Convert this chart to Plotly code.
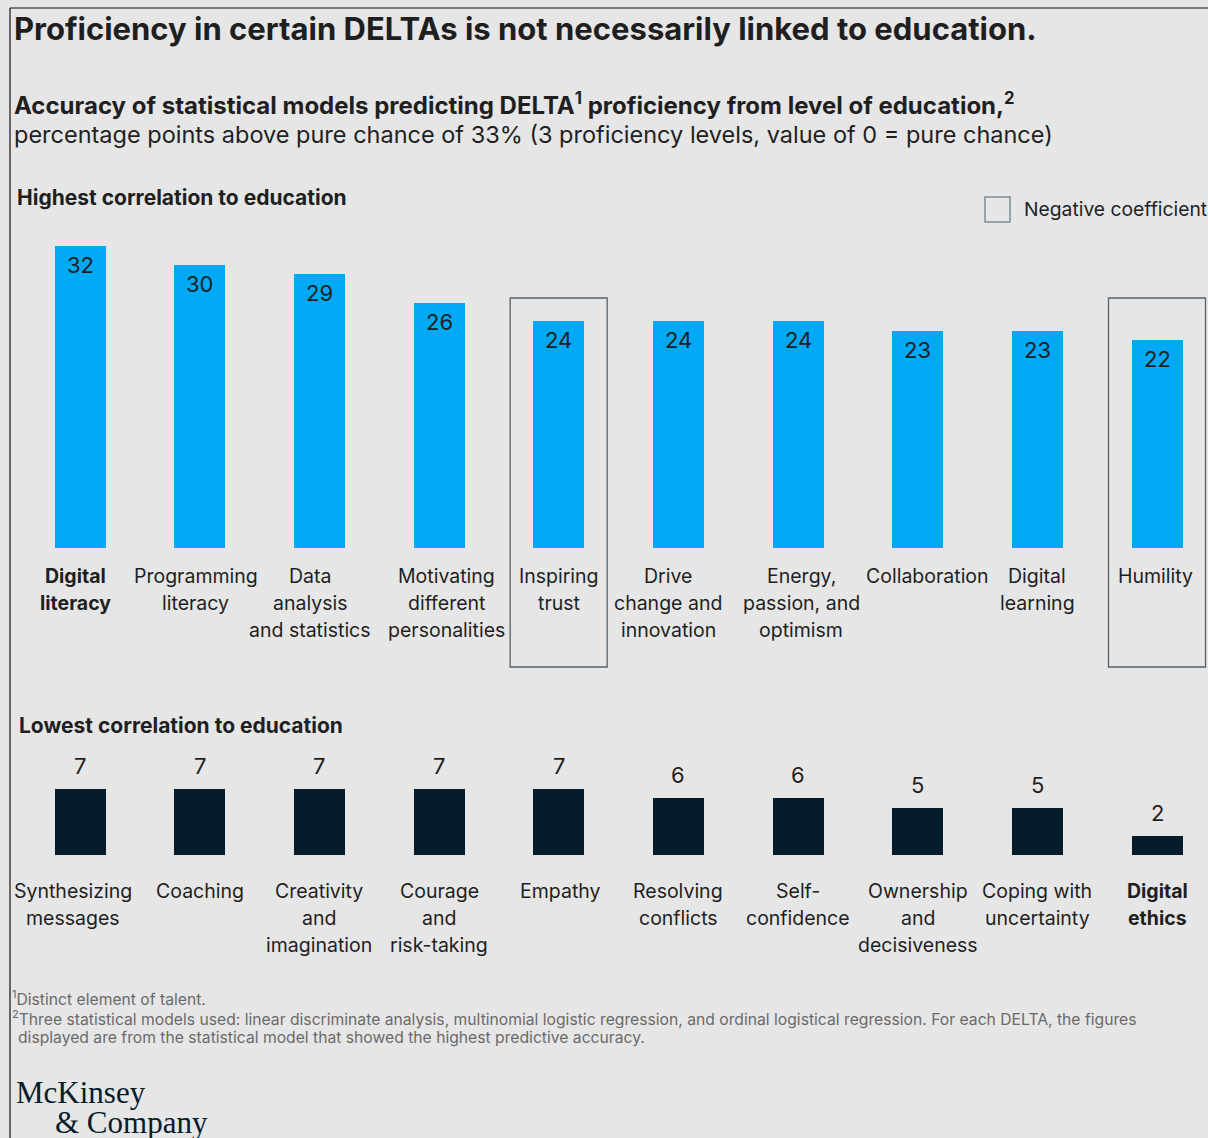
import plotly.graph_objects as go

# ---- data ----
top_categories = ["Digital literacy", "Programming literacy", "Data analysis and statistics",
                  "Motivating different personalities", "Inspiring trust", "Drive change and innovation",
                  "Energy, passion, and optimism", "Collaboration", "Digital learning", "Humility"]
top_labels = ["<b>Digital<br>literacy</b>", "Programming<br>literacy", "Data<br>analysis<br>and statistics",
              "Motivating<br>different<br>personalities", "Inspiring<br>trust", "Drive<br>change and<br>innovation",
              "Energy,<br>passion, and<br>optimism", "Collaboration", "Digital<br>learning", "Humility"]
top_values = [32, 30, 29, 26, 24, 24, 24, 23, 23, 22]
top_negative = [False, False, False, False, True, False, False, False, False, True]

bottom_categories = ["Synthesizing messages", "Coaching", "Creativity and imagination",
                     "Courage and risk-taking", "Empathy", "Resolving conflicts", "Self-confidence",
                     "Ownership and decisiveness", "Coping with uncertainty", "Digital ethics"]
bottom_labels = ["Synthesizing<br>messages", "Coaching", "Creativity<br>and<br>imagination",
                 "Courage<br>and<br>risk-taking", "Empathy", "Resolving<br>conflicts", "Self-<br>confidence",
                 "Ownership<br>and<br>decisiveness", "Coping with<br>uncertainty", "<b>Digital<br>ethics</b>"]
bottom_values = [7, 7, 7, 7, 7, 6, 6, 5, 5, 2]

# ---- layout constants (pixels) ----
W, H = 1208, 1138
FONT = "Inter"
TXT = "#1f1f1f"
BG = "#e6e6e6"
BLUE = "#00a9f4"
NAVY = "#051c2c"
PX_PER_UNIT = 9.44
LINE_H = 27  # category label line height

# horizontal nudges (px) so that neighbouring multi-line labels don't collide
LABEL_NUDGE = {
    "Digital literacy": -5, "Programming literacy": -4, "Data analysis and statistics": -9,
    "Motivating different personalities": 7, "Drive change and innovation": -10,
    "Energy, passion, and optimism": 3, "Collaboration": 10, "Humility": -2,
    "Synthesizing messages": -7, "Empathy": 2,
}


def py(p):
    """pixel row -> paper y"""
    return 1 - p / H


def px(p):
    return p / W


# x scale: category centers at 80 + 119.67*i
x_unit = 1077 / 9
x0 = -80 / x_unit
x_range = [x0, x0 + W / x_unit]

top_base, top_top = 548, 200
bot_base, bot_top = 855, 740

xs = list(range(len(top_values)))

fig = go.Figure()
fig.add_trace(go.Bar(
    x=xs, y=top_values, marker=dict(color=BLUE, line=dict(width=0)), width=51 / x_unit,
    xaxis="x", yaxis="y", hoverinfo="skip", showlegend=False))
fig.add_trace(go.Bar(
    x=xs, y=bottom_values, marker=dict(color=NAVY, line=dict(width=0)), width=51 / x_unit,
    xaxis="x2", yaxis="y2", hoverinfo="skip", showlegend=False))

axis_common = dict(domain=[0, 1], range=x_range, showticklabels=False, showgrid=False,
                   zeroline=False, showline=False, ticks="", fixedrange=True)
fig.update_layout(
    width=W, height=H, margin=dict(l=0, r=0, t=0, b=0),
    paper_bgcolor=BG, plot_bgcolor="rgba(0,0,0,0)",
    bargap=0,
    xaxis=dict(anchor="y", **axis_common),
    yaxis=dict(domain=[py(top_base), py(top_top)], range=[0, (top_base - top_top) / PX_PER_UNIT],
               visible=False, fixedrange=True),
    xaxis2=dict(anchor="y2", **axis_common),
    yaxis2=dict(domain=[py(bot_base), py(bot_top)], range=[0, (bot_base - bot_top) / PX_PER_UNIT],
                visible=False, fixedrange=True),
)

annotations = []

# value labels: inside the top of the blue bars, above the navy bars
for i, v in enumerate(top_values):
    annotations.append(dict(x=i, y=v, xref="x", yref="y", text=str(v), showarrow=False,
                            yanchor="middle", yshift=-19,
                            font=dict(family=FONT, size=22, color=TXT)))
for i, v in enumerate(bottom_values):
    annotations.append(dict(x=i, y=v, xref="x2", yref="y2", text=str(v), showarrow=False,
                            yanchor="middle", yshift=23,
                            font=dict(family=FONT, size=22, color=TXT)))


# category labels under each bar, one annotation per line
def category_labels(cats, labels, xref, yref, first_gap):
    for i, (cat, lab) in enumerate(zip(cats, labels)):
        bold = lab.startswith("<b>")
        lines = lab.replace("<b>", "").replace("</b>", "").split("<br>")
        for k, line in enumerate(lines):
            annotations.append(dict(
                x=i, y=0, xref=xref, yref=yref, showarrow=False,
                text=f"<b>{line}</b>" if bold else line,
                xanchor="center", yanchor="middle",
                xshift=LABEL_NUDGE.get(cat, 0), yshift=-(first_gap + LINE_H * k),
                font=dict(family=FONT, size=19.5, color=TXT)))


category_labels(top_categories, top_labels, "x", "y", 28)
category_labels(bottom_categories, bottom_labels, "x2", "y2", 36)


def text(x, y, s, size, color=TXT, family=FONT, xanchor="left"):
    annotations.append(dict(x=px(x), y=py(y), xref="paper", yref="paper", text=s, showarrow=False,
                            xanchor=xanchor, yanchor="middle", align="left",
                            font=dict(family=family, size=size, color=color)))


text(12, 28, "<b>Proficiency in certain DELTAs is not necessarily linked to education.</b>", 31)
text(12, 104, "<b>Accuracy of statistical models predicting DELTA<sup>1</sup> proficiency from level of education,<sup>2</sup></b>", 24)
text(12, 134, "percentage points above pure chance of 33% (3 proficiency levels, value of 0 = pure chance)", 23.5)
text(15, 198, "<b>Highest correlation to education</b>", 21)
text(17, 726, "<b>Lowest correlation to education</b>", 21)
text(1022, 209, "Negative coefficient", 19.3)

FOOT = "#6a6a6a"
text(10, 998, "<sup>1</sup>Distinct element of talent.", 15.7, FOOT)
text(10, 1018, "<sup>2</sup>Three statistical models used: linear discriminate analysis, multinomial logistic regression, "
     "and ordinal logistical regression. For each DELTA, the figures", 15.7, FOOT)
text(16, 1037, "displayed are from the statistical model that showed the highest predictive accuracy.", 15.7, FOOT)

text(14, 1092, "McKinsey", 31, NAVY, "Liberation Serif")
text(53, 1122, "&amp; Company", 31, NAVY, "Liberation Serif")

fig.update_layout(annotations=annotations)

shapes = [
    # frame lines
    dict(type="line", xref="paper", yref="paper", x0=px(10), x1=px(10), y0=0, y1=py(8),
         line=dict(color="#111111", width=1.2)),
    dict(type="line", xref="paper", yref="paper", x0=px(10), x1=1, y0=py(8), y1=py(8),
         line=dict(color="#111111", width=1.2)),
    # legend swatch
    dict(type="rect", xref="paper", yref="paper", x0=px(985), x1=px(1010), y0=py(222), y1=py(197),
         line=dict(color="#7d8a94", width=1.5), fillcolor="rgba(0,0,0,0)"),
]
half = 48.5 / x_unit
for i, neg in enumerate(top_negative):
    if neg:
        shapes.append(dict(type="rect", xref="x", yref="paper", x0=i - half, x1=i + half,
                           y0=py(667), y1=py(298), line=dict(color="#55616b", width=1.3),
                           fillcolor="rgba(0,0,0,0)"))
fig.update_layout(shapes=shapes)

fig.write_html("out.html")
